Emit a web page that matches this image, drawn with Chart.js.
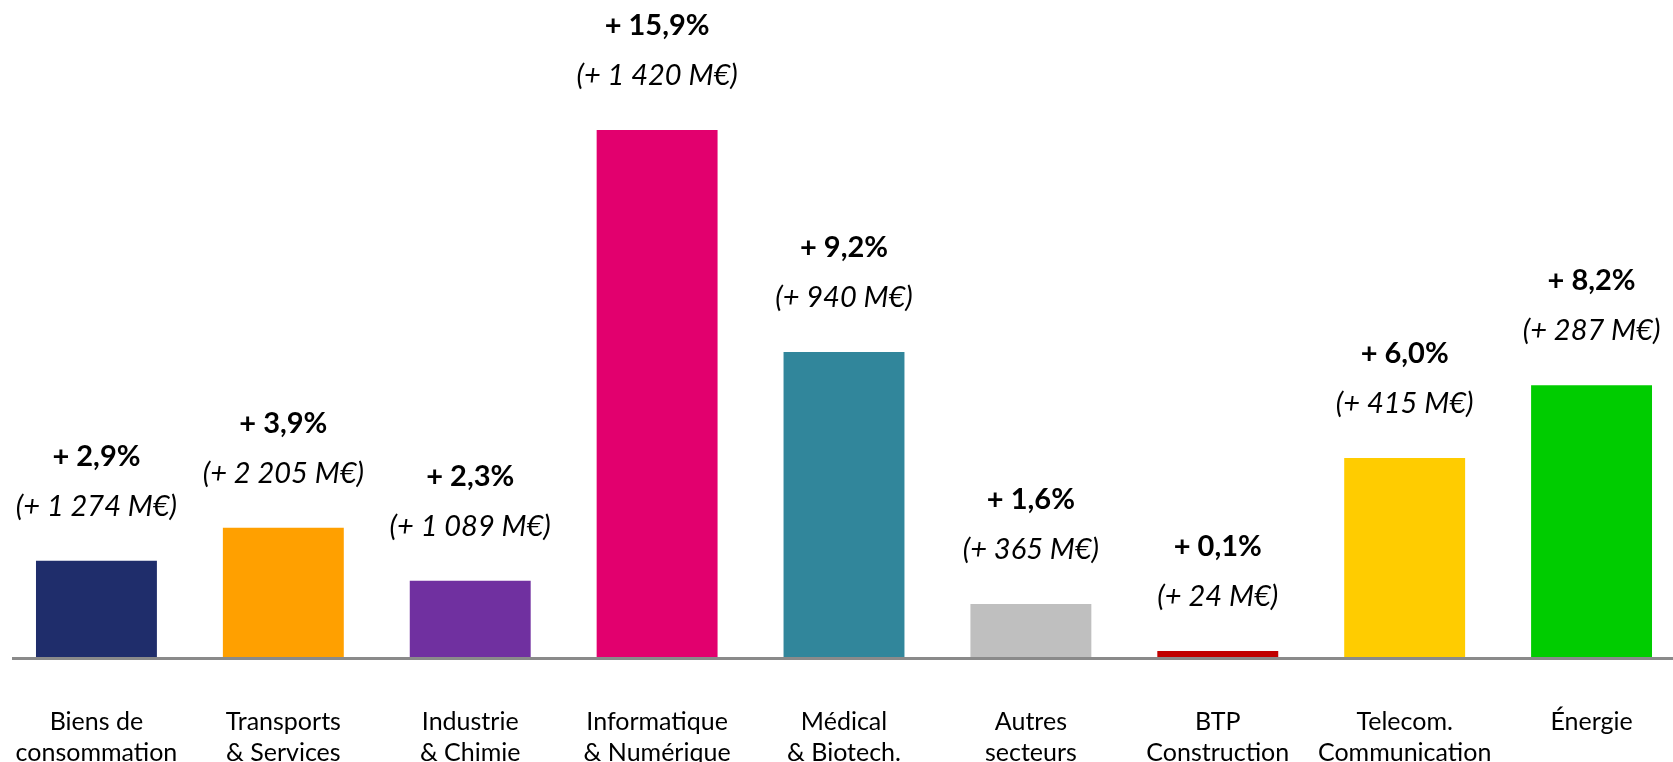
<!DOCTYPE html>
<html>
<head>
<meta charset="utf-8">
<script src="https://cdn.jsdelivr.net/npm/chart.js@4/dist/chart.umd.min.js"></script>
<style>
  html, body { margin: 0; padding: 0; background: #ffffff; overflow: hidden; width: 1673px; height: 762px; }
  #wrap { position: absolute; left: 0; top: 0; width: 1690px; height: 762px; }
</style>
</head>
<body>
<div id="wrap"><canvas id="c"></canvas></div>
<script>
const categories = [
  ["Biens de", "consommation"],
  ["Transports", "& Services"],
  ["Industrie", "& Chimie"],
  ["Informatique", "& Numérique"],
  ["Médical", "& Biotech."],
  ["Autres", "secteurs"],
  ["BTP", "Construction"],
  ["Telecom.", "Communication"],
  ["Énergie"]
];
const growthPct = [2.9, 3.9, 2.3, 15.9, 9.2, 1.6, 0.18, 6.0, 8.2];
const pctLabels = ["+ 2,9%", "+ 3,9%", "+ 2,3%", "+ 15,9%", "+ 9,2%", "+ 1,6%", "+ 0,1%", "+ 6,0%", "+ 8,2%"];
const amountLabels = ["(+ 1 274 M€)", "(+ 2 205 M€)", "(+ 1 089 M€)", "(+ 1 420 M€)", "(+ 940 M€)", "(+ 365 M€)", "(+ 24 M€)", "(+ 415 M€)", "(+ 287 M€)"];
const barColors = ["#1F2D6B", "#FFA000", "#7030A0", "#E2006E", "#31869B", "#BFBFBF", "#C00000", "#FFCC00", "#00CC00"];

const FONT = "Lato, 'Open Sans', sans-serif";

const labelPlugin = {
  id: 'valueLabels',
  afterDatasetsDraw(chart) {
    const ctx = chart.ctx;
    const meta = chart.getDatasetMeta(0);
    const yScale = chart.scales.y;
    const y0 = yScale.getPixelForValue(0);
    ctx.save();
    ctx.strokeStyle = '#8A8A8A';
    ctx.lineWidth = 3;
    ctx.beginPath();
    ctx.moveTo(chart.chartArea.left + 9, y0 + 1.5);
    ctx.lineTo(chart.chartArea.right, y0 + 1.5);
    ctx.stroke();
    ctx.fillStyle = '#000000';
    ctx.textAlign = 'center';
    ctx.textBaseline = 'alphabetic';
    meta.data.forEach((bar, i) => {
      const x = bar.x;
      const top = bar.y;
      ctx.font = "bold 29px " + FONT;
      ctx.fillText(pctLabels[i], x, top - 95);
      ctx.font = "italic 29px " + FONT;
      ctx.fillText(amountLabels[i], x, top - 45);
    });
    ctx.restore();
  }
};

new Chart(document.getElementById('c'), {
  type: 'bar',
  data: {
    labels: categories,
    datasets: [{
      data: growthPct,
      backgroundColor: barColors,
      borderWidth: 0,
      categoryPercentage: 1.0,
      barPercentage: 0.647
    }]
  },
  options: {
    responsive: true,
    maintainAspectRatio: false,
    animation: false,
    devicePixelRatio: 1,
    layout: { padding: { left: 3, right: 5, top: 0, bottom: 0 } },
    plugins: {
      legend: { display: false },
      tooltip: { enabled: false }
    },
    scales: {
      x: {
        grid: { display: false, drawTicks: false },
        border: { display: false },
        ticks: {
          color: '#000000',
          padding: 49,
          maxRotation: 0,
          autoSkip: false,
          font: { family: FONT, size: 25, lineHeight: 31 / 25 }
        },
        afterFit(scale) {
          scale.height = 105;
          scale.paddingLeft = 0;
          scale.paddingRight = 0;
        }
      },
      y: {
        display: false,
        min: 0,
        max: 19.82
      }
    }
  },
  plugins: [labelPlugin]
});
</script>
</body>
</html>
